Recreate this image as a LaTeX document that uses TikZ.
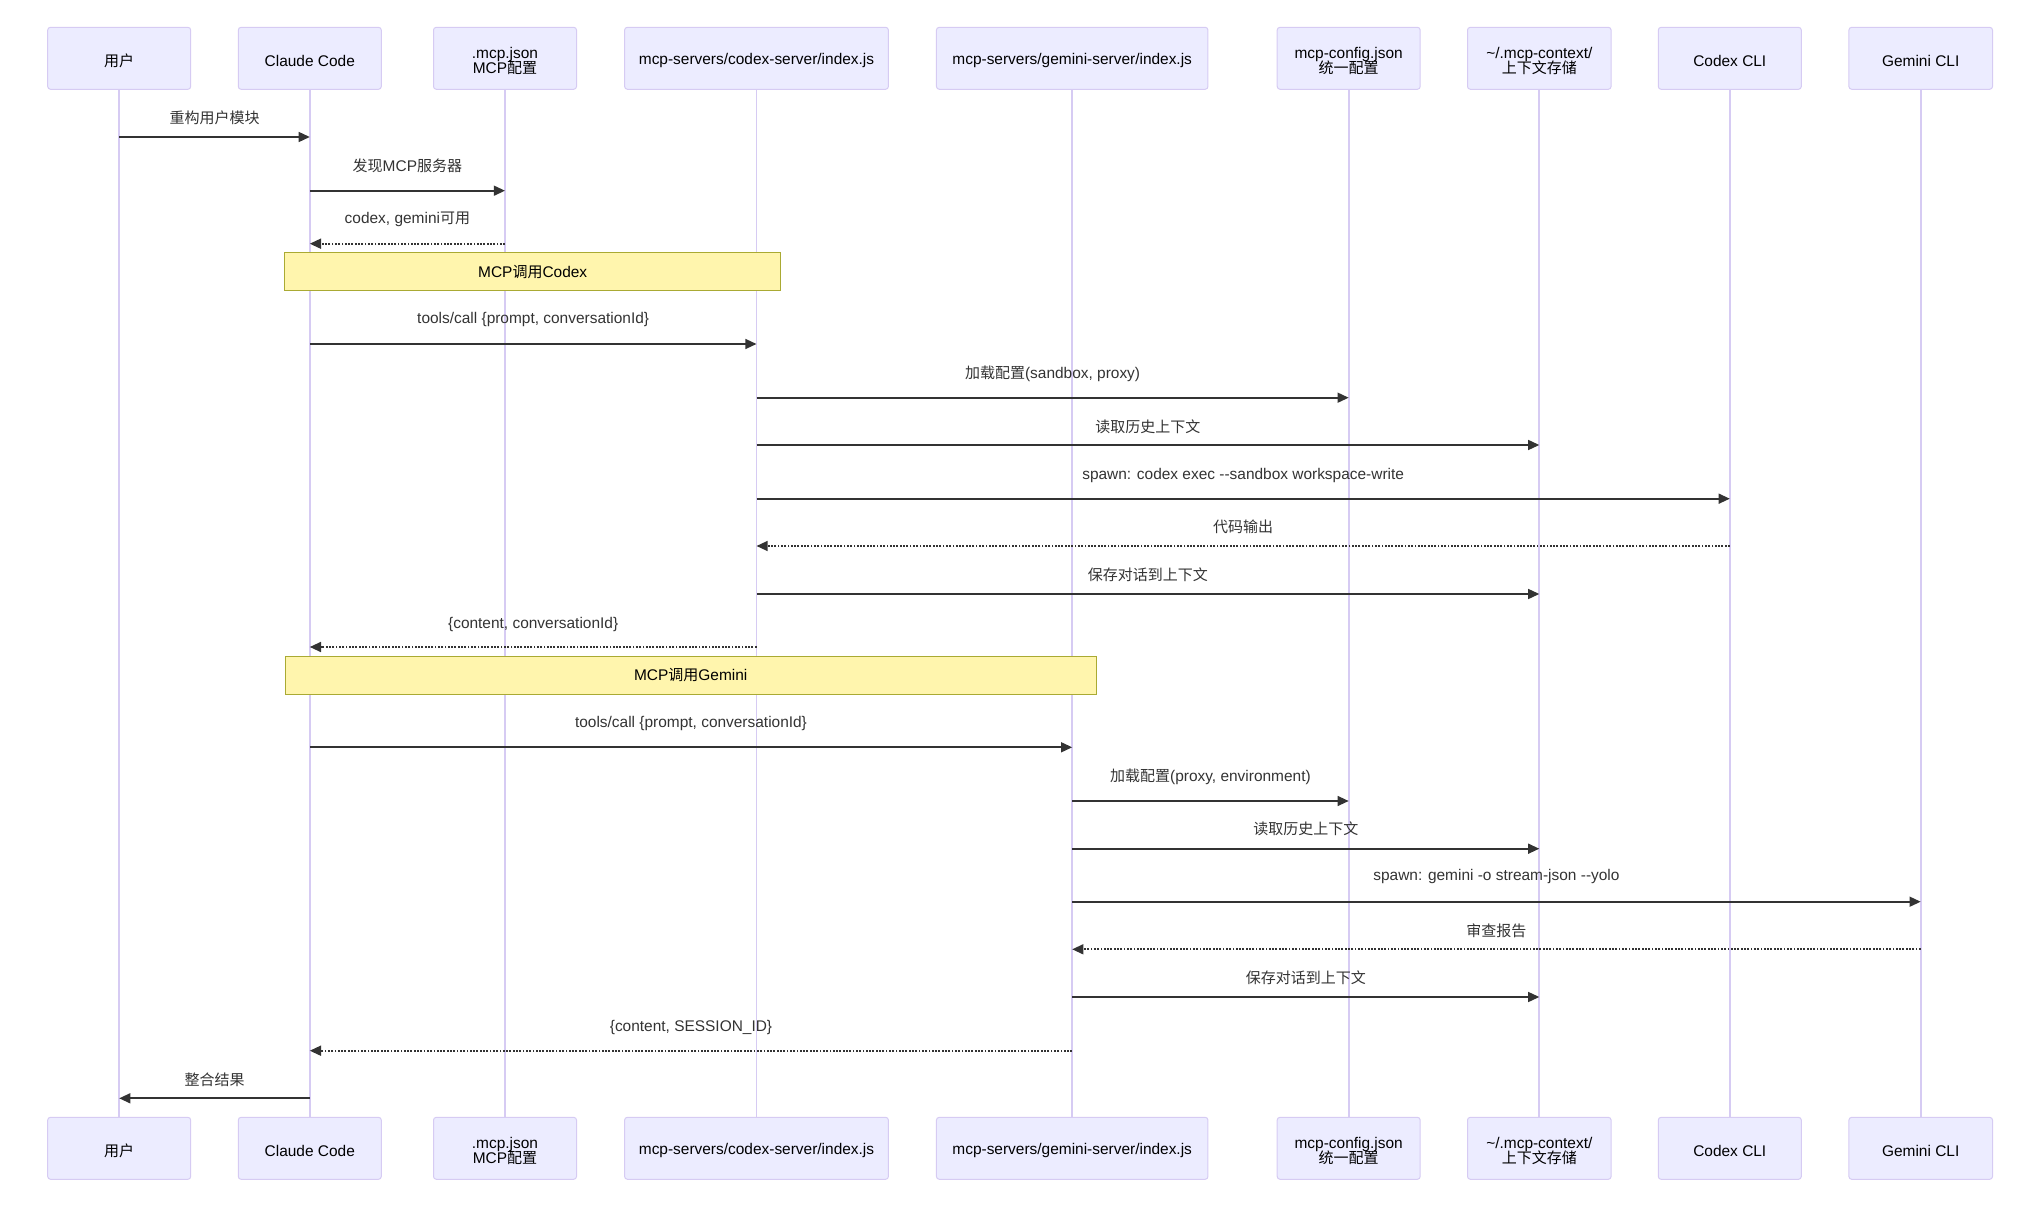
\documentclass[tikz,border=0pt]{standalone}
\usepackage{fontspec}
\setmainfont{Liberation Sans}[Scale=1.03]
\newfontfamily\cjk{Noto Sans CJK SC}
\usetikzlibrary{arrows.meta}
\definecolor{actfill}{HTML}{ECECFF}
\definecolor{actline}{HTML}{D6CBF3}
\definecolor{sig}{HTML}{333333}
\definecolor{notefill}{HTML}{FFF5AD}
\definecolor{noteline}{HTML}{AAAA33}
\newcommand\actfont{\fontsize{7.5}{7.2}\selectfont\lineskiplimit=-10pt\relax}
\newcommand\lblfont{\fontsize{7.5}{9}\selectfont}
\newcommand\seqmsg[6]{\draw[#5] (#1 |- 0,#3) -- node[lbl, yshift={(#3-#4)*0.5pt}] {#6} (#2 |- 0,#3);}
\newcommand\seqactor[5]{\node[actorbox, minimum width=#4] (#1) at (#2,#3) {};
  \node[acttext] (#1T) at ([yshift=-1.3pt]#1.center) {#5};}
\begin{document}
\begin{tikzpicture}[x=0.5pt,y=-0.5pt,
  actorbox/.style={draw=actline, fill=actfill, line width=0.5pt, rounded corners=1.4pt,
    minimum height=31pt, inner sep=0pt},
  acttext/.style={inner sep=0pt, align=center, text=black, font=\actfont},
  lifeline/.style={draw=actline, line width=0.85pt},
  solidmsg/.style={draw=sig, line width=0.85pt, -{Triangle[length=5.6pt,width=5pt]}},
  dottedmsg/.style={solidmsg, dash pattern=on 0.9pt off 0.75pt},
  lbl/.style={inner sep=0pt, text=sig, font=\lblfont},
  notebox/.style={draw=noteline, fill=notefill, line width=0.5pt, inner sep=0pt,
    minimum height=19pt, text=black, font=\lblfont}]
\useasboundingbox (0,0) rectangle (2040,1208);
% top actors
\seqactor{user}{119.2}{58.3}{71.5pt}{{\cjk 用户}}
\seqactor{claude}{309.8}{58.3}{71.5pt}{Claude Code}
\seqactor{mcpjson}{505}{58.3}{71.5pt}{.mcp.json\\MCP{\cjk 配置}}
\seqactor{codexsrv}{756.5}{58.3}{131.9pt}{mcp-servers/codex-server/index.js}
\seqactor{geminisrv}{1072.2}{58.3}{135.75pt}{mcp-servers/gemini-server/index.js}
\seqactor{config}{1348.7}{58.3}{71.5pt}{mcp-config.json\\{\cjk 统一配置}}
\seqactor{context}{1539.3}{58.3}{71.8pt}{\textasciitilde/.mcp-context/\\{\cjk 上下文存储}}
\seqactor{codexcli}{1729.8}{58.3}{71.5pt}{Codex CLI}
\seqactor{geminicli}{1920.7}{58.3}{71.8pt}{Gemini CLI}
% bottom actors
\seqactor{userB}{119.2}{1148.3}{71.5pt}{{\cjk 用户}}
\seqactor{claudeB}{309.8}{1148.3}{71.5pt}{Claude Code}
\seqactor{mcpjsonB}{505}{1148.3}{71.5pt}{.mcp.json\\MCP{\cjk 配置}}
\seqactor{codexsrvB}{756.5}{1148.3}{131.9pt}{mcp-servers/codex-server/index.js}
\seqactor{geminisrvB}{1072.2}{1148.3}{135.75pt}{mcp-servers/gemini-server/index.js}
\seqactor{configB}{1348.7}{1148.3}{71.5pt}{mcp-config.json\\{\cjk 统一配置}}
\seqactor{contextB}{1539.3}{1148.3}{71.8pt}{\textasciitilde/.mcp-context/\\{\cjk 上下文存储}}
\seqactor{codexcliB}{1729.8}{1148.3}{71.5pt}{Codex CLI}
\seqactor{geminicliB}{1920.7}{1148.3}{71.8pt}{Gemini CLI}
% lifelines
\foreach \a in {user,claude,mcpjson,codexsrv,geminisrv,config,context,codexcli,geminicli}
  \draw[lifeline] (\a.south) -- (\a B.north);
% messages
\seqmsg{user}{claude}{137}{117.5}{solidmsg}{{\cjk 重构用户模块}}
\seqmsg{claude}{mcpjson}{190.7}{165.7}{solidmsg}{{\cjk 发现}MCP{\cjk 服务器}}
\seqmsg{mcpjson}{claude}{243.7}{219.2}{dottedmsg}{codex, gemini{\cjk 可用}}
\node[notebox, minimum width=247.9pt] (note1) at (532.7,272) {MCP{\cjk 调用}Codex};
\seqmsg{claude}{codexsrv}{344}{320}{solidmsg}{tools/call \{prompt, conversationId\}}
\seqmsg{codexsrv}{config}{397.7}{374}{solidmsg}{{\cjk 加载配置}(sandbox, proxy)}
\seqmsg{codexsrv}{context}{445}{426.3}{solidmsg}{{\cjk 读取历史上下文}}
\seqmsg{codexsrv}{codexcli}{498.7}{475.5}{solidmsg}{spawn: codex exec -{}-sandbox workspace-write}
\seqmsg{codexcli}{codexsrv}{546}{527}{dottedmsg}{{\cjk 代码输出}}
\seqmsg{codexsrv}{context}{594}{575}{solidmsg}{{\cjk 保存对话到上下文}}
\seqmsg{codexsrv}{claude}{647}{624.5}{dottedmsg}{\{content, conversationId\}}
\node[notebox, minimum width=405.75pt] (note2) at (690.75,675) {MCP{\cjk 调用}Gemini};
\seqmsg{claude}{geminisrv}{747.3}{724}{solidmsg}{tools/call \{prompt, conversationId\}}
\seqmsg{geminisrv}{config}{801}{777}{solidmsg}{{\cjk 加载配置}(proxy, environment)}
\seqmsg{geminisrv}{context}{848.7}{829}{solidmsg}{{\cjk 读取历史上下文}}
\seqmsg{geminisrv}{geminicli}{901.7}{877}{solidmsg}{spawn: gemini -o stream-json -{}-yolo}
\seqmsg{geminicli}{geminisrv}{949.3}{930.7}{dottedmsg}{{\cjk 审查报告}}
\seqmsg{geminisrv}{context}{997}{977.8}{solidmsg}{{\cjk 保存对话到上下文}}
\seqmsg{geminisrv}{claude}{1050.7}{1027}{dottedmsg}{\{content, SESSION\_ID\}}
\seqmsg{claude}{user}{1098.3}{1079.3}{solidmsg}{{\cjk 整合结果}}
\end{tikzpicture}
\end{document}
